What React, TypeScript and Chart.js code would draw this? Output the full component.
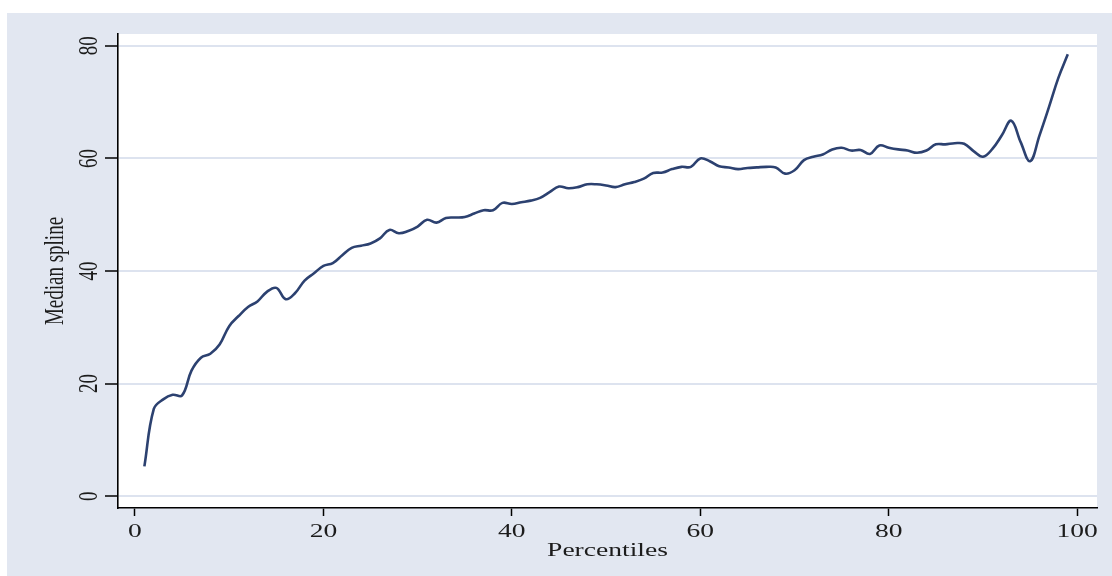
import React, { useEffect, useRef } from "react";
import { Chart, registerables } from "chart.js";

Chart.register(...registerables);

// Percentile positions (x) and the median spline value at each one (y)
const percentiles = [
  1, 2, 3, 4, 5, 6, 7, 8, 9, 10, 11, 12, 13, 14, 15, 16, 17, 18, 19, 20,
  21, 22, 23, 24, 25, 26, 27, 28, 29, 30, 31, 32, 33, 34, 35, 36, 37, 38, 39, 40,
  41, 42, 43, 44, 45, 46, 47, 48, 49, 50, 51, 52, 53, 54, 55, 56, 57, 58, 59, 60,
  61, 62, 63, 64, 65, 66, 67, 68, 69, 70, 71, 72, 73, 74, 75, 76, 77, 78, 79, 80,
  81, 82, 83, 84, 85, 86, 87, 88, 89, 90, 91, 92, 93, 94, 95, 96, 97, 98, 99,
];

const medianSpline = [
  5.3, 15.5, 17.2, 18.0, 17.9, 22.3, 24.6, 25.3, 27.0, 30.2,
  32.0, 33.6, 34.6, 36.3, 37.0, 35.0, 36.1, 38.3, 39.6, 40.9,
  41.4, 42.8, 44.1, 44.5, 44.9, 45.8, 47.3, 46.7, 47.1, 47.9,
  49.1, 48.6, 49.4, 49.5, 49.6, 50.2, 50.8, 50.8, 52.1, 51.9,
  52.2, 52.5, 53.0, 54.0, 55.0, 54.7, 54.9, 55.4, 55.4, 55.2,
  54.9, 55.4, 55.8, 56.4, 57.4, 57.5, 58.1, 58.5, 58.5, 60.0,
  59.5, 58.6, 58.4, 58.1, 58.3, 58.4, 58.5, 58.4, 57.3, 57.9,
  59.7, 60.3, 60.7, 61.6, 61.9, 61.4, 61.5, 60.8, 62.3, 61.9,
  61.6, 61.4, 61.0, 61.4, 62.5, 62.5, 62.7, 62.6, 61.3, 60.3,
  61.7, 64.1, 66.7, 62.9, 59.5, 64.1, 69.1, 74.3, 78.5,
];

const xTickValues = [0, 20, 40, 60, 80, 100];
const yTickValues = [0, 20, 40, 60, 80];

const xTitle = "Percentiles";
const yTitle = "Median spline";

const PAGE_BG = "#ffffff";
const FRAME_BG = "#e2e7f1";
const GRID = "#dde3ef";
const LINE = "#2c4170";
const INK = "#1c1c1c";
const FONT = '19px "Liberation Serif", "Times New Roman", serif';
const SX = 1.45; // horizontal widening of the serif lettering

function drawText(
  ctx: CanvasRenderingContext2D,
  text: string,
  x: number,
  y: number,
  vertical: boolean,
  align: CanvasTextAlign,
  baseline: CanvasTextBaseline
) {
  ctx.save();
  ctx.translate(x, y);
  ctx.scale(SX, 1);
  if (vertical) ctx.rotate(-Math.PI / 2);
  ctx.font = FONT;
  ctx.fillStyle = INK;
  ctx.textAlign = align;
  ctx.textBaseline = baseline;
  ctx.fillText(text, 0, 0);
  ctx.restore();
}

const framePlugin = {
  id: "stataFrame",
  beforeDraw(chart: any) {
    const { ctx, chartArea, width, height } = chart;
    ctx.save();
    ctx.fillStyle = PAGE_BG;
    ctx.fillRect(0, 0, width, height);
    ctx.fillStyle = FRAME_BG;
    ctx.fillRect(7, 13, width - 7, height - 13);
    ctx.fillStyle = "#ffffff";
    ctx.fillRect(
      chartArea.left,
      chartArea.top,
      chartArea.right - chartArea.left,
      chartArea.bottom - chartArea.top
    );
    ctx.restore();
  },
  afterDraw(chart: any) {
    const { ctx, chartArea } = chart;
    const xs = chart.scales.x;
    const ys = chart.scales.y;
    xs.ticks.forEach((t: any) => {
      drawText(ctx, String(t.value), xs.getPixelForValue(t.value), 537, false, "center", "alphabetic");
    });
    ys.ticks.forEach((t: any) => {
      drawText(ctx, String(t.value), 97, ys.getPixelForValue(t.value), true, "center", "alphabetic");
    });
    const cx = (chartArea.left + chartArea.right) / 2;
    drawText(ctx, xTitle, cx, 556, false, "center", "alphabetic");
    drawText(ctx, yTitle, 63, 271, true, "center", "alphabetic");
  },
};

export default function App() {
  const canvasRef = useRef<HTMLCanvasElement | null>(null);

  useEffect(() => {
    const canvas = canvasRef.current;
    if (!canvas) return;
    const points = percentiles.map((p, i) => ({ x: p, y: medianSpline[i] }));
    const chart = new Chart(canvas, {
      type: "line",
      data: {
        datasets: [
          {
            data: points,
            borderColor: LINE,
            borderWidth: 2.6,
            pointRadius: 0,
            fill: false,
            tension: 0.4,
          },
        ],
      },
      options: {
        animation: false,
        responsive: false,
        maintainAspectRatio: false,
        layout: { padding: { left: 0, top: 34, right: 15, bottom: 0 } },
        plugins: {
          legend: { display: false },
          tooltip: { enabled: false },
        },
        scales: {
          x: {
            type: "linear",
            min: -1.8,
            max: 102.1,
            afterBuildTicks: (scale: any) => {
              scale.ticks = xTickValues.map((v) => ({ value: v }));
            },
            afterFit: (scale: any) => {
              scale.height = 68;
            },
            ticks: { display: false },
            grid: {
              display: true,
              drawOnChartArea: false,
              drawTicks: true,
              tickLength: 8,
              tickColor: "#000000",
              tickWidth: 1.5,
            },
            border: { display: true, color: "#000000", width: 1.6 },
            title: { display: false },
          },
          y: {
            type: "linear",
            min: -2.1,
            max: 82.1,
            afterBuildTicks: (scale: any) => {
              scale.ticks = yTickValues.map((v) => ({ value: v }));
            },
            afterFit: (scale: any) => {
              scale.width = 118;
            },
            ticks: { display: false },
            grid: {
              display: true,
              drawOnChartArea: true,
              color: GRID,
              lineWidth: 2,
              drawTicks: true,
              tickLength: 13,
              tickColor: "#000000",
              tickWidth: 1.5,
            },
            border: { display: true, color: "#000000", width: 1.6 },
            title: { display: false },
          },
        },
      },
      plugins: [framePlugin],
    });
    return () => chart.destroy();
  }, []);

  return (
    <div style={{ position: "absolute", left: 0, top: 0, width: 1112, height: 576 }}>
      <canvas ref={canvasRef} width={1112} height={576} style={{ display: "block" }} />
    </div>
  );
}
